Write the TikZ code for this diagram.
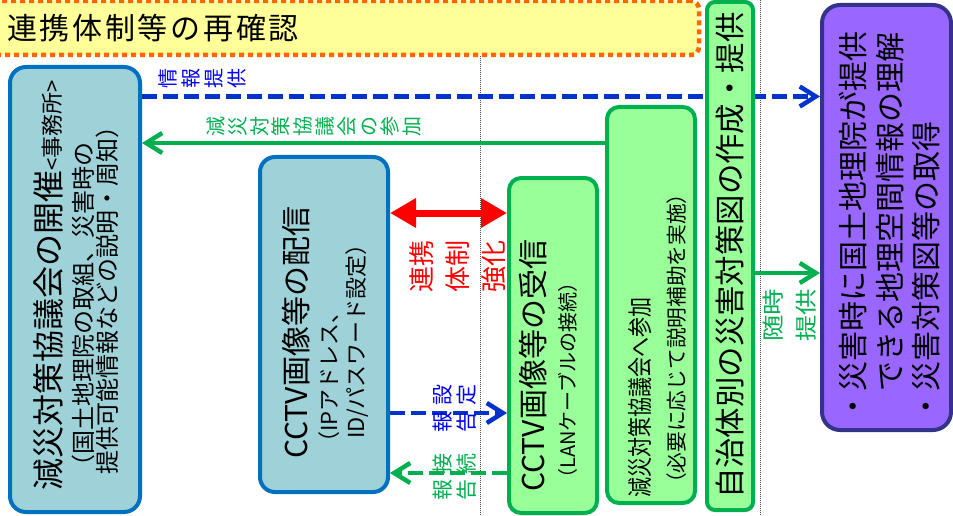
\documentclass[tikz,border=0pt]{standalone}
\usepackage{graphicx}
\usepackage{fontspec}
\setmainfont{Noto Sans CJK JP}
\usetikzlibrary{arrows.meta}
\definecolor{bblue}{RGB}{0,112,192}
\definecolor{tealfill}{RGB}{158,210,216}
\definecolor{ggreen}{RGB}{0,176,80}
\definecolor{gfill}{RGB}{153,255,153}
\definecolor{pfill}{RGB}{153,102,255}
\definecolor{pborder}{RGB}{51,51,140}
\definecolor{dblue}{RGB}{0,51,204}
\definecolor{lblue}{RGB}{0,0,240}
\definecolor{bannerfill}{RGB}{255,255,153}
\definecolor{bannerline}{RGB}{255,102,0}
\newcommand{\fsz}[2]{\fontsize{#1}{#2}\selectfont}
\pgfdeclarelayer{back}
\pgfsetlayers{back,main}
\begin{document}
\begin{tikzpicture}[x=1pt,y=-1pt,
  boxbase/.style={rectangle, line width=4pt, inner sep=0pt},
  tealbox/.style={boxbase, draw=bblue, fill=tealfill, rounded corners=16pt},
  greenbox/.style={boxbase, draw=ggreen, fill=gfill, rounded corners=12pt},
  purplebox/.style={boxbase, draw=pborder, fill=pfill, rounded corners=18pt},
  banner/.style={rectangle, inner sep=0pt, fill=bannerfill, draw=bannerline, line width=4.5pt, dash pattern=on 5pt off 4pt, rounded corners=8pt},
  rtext/.style={rotate=90, inner sep=0pt, anchor=west, text=black},
  rlabel/.style={rotate=90, inner sep=0pt, align=center},
  barb/.style={-{Straight Barb[length=16pt,width=20pt]}},
  bluedash/.style={draw=dblue, line width=4.5pt, dash pattern=on 15pt off 6pt, barb},
  greensolid/.style={draw=ggreen, line width=4.5pt, barb},
  greendash/.style={draw=ggreen, line width=4.5pt, dash pattern=on 15pt off 6pt, barb},
  redarrow/.style={draw=red, fill=red, line width=7pt, {Triangle[length=26pt,width=28pt]}-{Triangle[length=26pt,width=28pt]}},
  guide/.style={draw=black!70, line width=1pt, densely dotted},
]
\useasboundingbox (0,0) rectangle (953,516);

% boxes
\node[tealbox, minimum width=130pt, minimum height=445pt] (A) at (75,289.5) {};
\node[tealbox, rounded corners=15pt, minimum width=128pt, minimum height=335pt] (B) at (324,324.5) {};
\node[greenbox, minimum width=88pt, minimum height=335pt] (C) at (553,345.5) {};
\node[greenbox, minimum width=88pt, minimum height=396pt] (D) at (651,305) {};
\node[greenbox, rounded corners=8pt, minimum width=46pt, minimum height=508pt] (E) at (730,256) {};
\node[purplebox, minimum width=129pt, minimum height=425pt] (F) at (886.5,217.5) {};

% level coordinates
\coordinate (yInfo) at (0,96.5);
\coordinate (yJoin) at (0,143);
\coordinate (yRed) at (0,213);
\coordinate (yAny) at (0,273);
\coordinate (ySet) at (0,413);
\coordinate (yCon) at (0,473);

\begin{pgfonlayer}{back}
  \fill[white] (0,0) rectangle (953,516);
  \draw[guide] (480,0) -- (480,516);
  \draw[guide] (760,0) -- (760,516);
  \node[banner, minimum width=710pt, minimum height=54pt] (T) at (344,28) {};
  \draw[bluedash] (A.east |- yInfo) -- (F.west |- yInfo);
  \draw[greensolid] (D.west |- yJoin) -- (A.east |- yJoin);
  \draw[redarrow] (B.east |- yRed) -- (C.west |- yRed);
  \draw[greensolid] (E.east |- yAny) -- (F.west |- yAny);
  \draw[bluedash] (B.east |- ySet) -- (C.west |- ySet);
  \draw[greendash] (C.west |- yCon) -- (B.east |- yCon);
\end{pgfonlayer}

% banner title
\node[anchor=west, inner sep=0pt, font=\fsz{30}{30}\addfontfeature{LetterSpace=9}] (Ttext) at (7,28) {連携体制等の再確認};

% box texts
\node[rtext, font=\fsz{32}{32}] (A1) at (48,491) {減災対策協議会の開催{\fsz{22}{22}<事務所>}};
\node[rtext, font=\fsz{24}{24}] (A2) at (83,479) {（国土地理院の取組、災害時の};
\node[rtext, font=\fsz{24}{24}] (A3) at (107,475) {提供可能情報などの説明・周知）};

\node[rtext, font=\fsz{30}{30}] (B1) at (296,459) {CCTV画像等の配信};
\node[rtext, font=\fsz{22}{22}] (B2) at (329,454) {（IPアドレス、};
\node[rtext, font=\fsz{22}{22}] (B3) at (357,439) {ID/パスワード設定）};

\node[rtext, font=\fsz{30}{30}] (C1) at (533,492) {CCTV画像等の受信};
\node[rtext, font=\fsz{20}{20}] (C2) at (568,489) {（LANケーブルの接続）};

\node[rtext, font=\fsz{25}{25}] (D1) at (640,498) {\scalebox{0.8}[1]{減災対策協議会へ参加}};
\node[rtext, font=\fsz{20.7}{20.7}] (D2) at (677,494) {（必要に応じて説明補助を実施）};

\node[rtext, font=\fsz{30.4}{30.4}] (E1) at (730,499) {自治体別の災害対策図の作成・提供};

\node[rtext, font=\fsz{30}{30}] (F1) at (853,422) {・災害時に国土地理院が提供};
\node[rtext, font=\fsz{30}{30}] (F2) at (890,392) {できる地理空間情報の理解};
\node[rtext, font=\fsz{30}{30}] (F3) at (926,422) {・災害対策図等の取得};

% connector labels
\node[rlabel, text=lblue, font=\fsz{20}{23}] (Linfo) at (202,79) {情\\報\\提\\供};
\node[rlabel, text=ggreen, font=\fsz{20}{21.8}] (Ljoin) at (314,127) {減\\災\\対\\策\\協\\議\\会\\の\\参\\加};
\node[rlabel, text=red, font=\fsz{26}{36}] (Lred) at (458,266) {連携\\体制\\強化};
\node[rlabel, text=ggreen, font=\fsz{22}{33}] (Lany) at (790,315) {\scalebox{1.2}[1]{随時}\\\scalebox{1.2}[1]{提供}};
\node[rlabel, text=lblue, font=\fsz{21}{24}] (Lset) at (455,408) {報\hspace{6pt}設\\告\hspace{6pt}定};
\node[rlabel, text=ggreen, font=\fsz{21}{24}] (Lcon) at (455,477) {報\hspace{5pt}接\\告\hspace{5pt}続};
\end{tikzpicture}
\end{document}
